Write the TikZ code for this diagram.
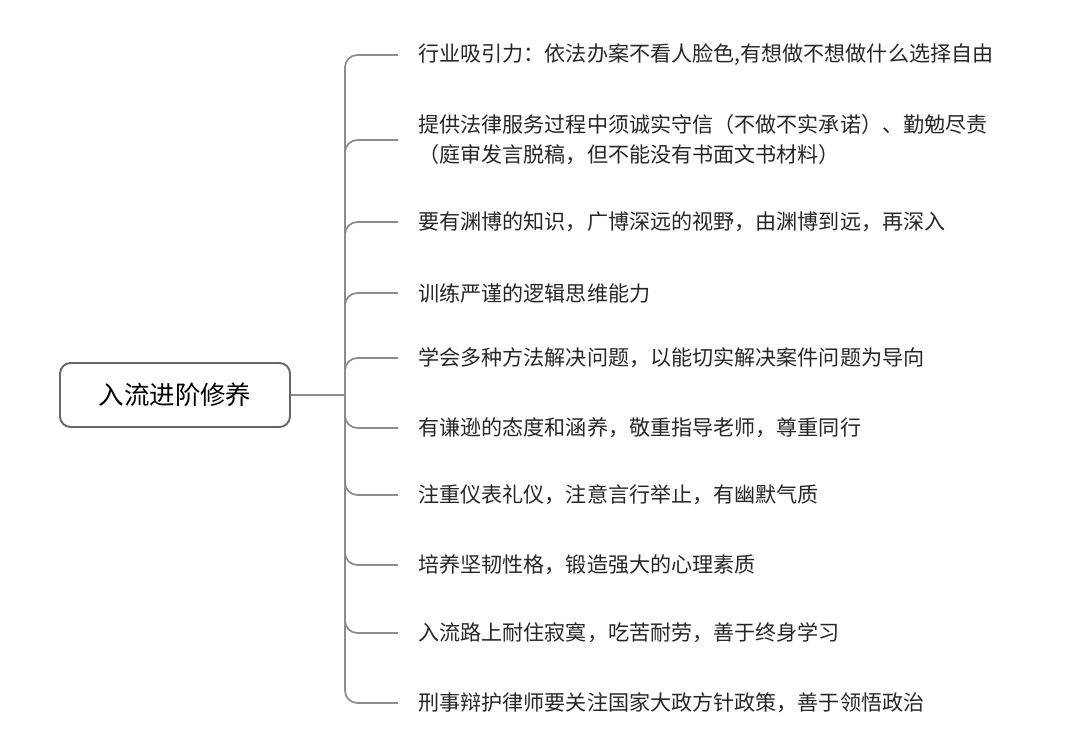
\documentclass[tikz,border=0pt]{standalone}
\usepackage{fontspec}
\newfontfamily\cjk{Noto Sans CJK SC}
\begin{document}
\begin{tikzpicture}[x=0.02cm,y=-0.02cm]
\tikzset{
  rootbox/.style={draw=gray!80!black,line width=1.1pt,rounded corners=6pt,minimum width=4.6cm,minimum height=1.28cm,font=\cjk\fontsize{14.5}{17}\selectfont},
  item/.style={anchor=west,inner sep=0pt,align=left,font=\cjk\fontsize{12}{17}\selectfont,text=black!85},
  branch/.style={draw=gray!90,line width=1pt,rounded corners=7pt}
}
\useasboundingbox (0,0) rectangle (1080,753);
\node [rootbox] (root) at (175,395) {入流进阶修养};
\coordinate (J) at (345,395);
\draw [branch] (root.east) -- (J);
\foreach \y/\name/\txt in {
  55/i1/{行业吸引力：依法办案不看人脸色,有想做不想做什么选择自由},
  140/i2/{提供法律服务过程中须诚实守信（不做不实承诺）、勤勉尽责\\（庭审发言脱稿，但不能没有书面文书材料）},
  222/i3/{要有渊博的知识，广博深远的视野，由渊博到远，再深入},
  293/i4/{训练严谨的逻辑思维能力},
  358/i5/{学会多种方法解决问题，以能切实解决案件问题为导向},
  428/i6/{有谦逊的态度和涵养，敬重指导老师，尊重同行},
  495/i7/{注重仪表礼仪，注意言行举止，有幽默气质},
  565/i8/{培养坚韧性格，锻造强大的心理素质},
  633/i9/{入流路上耐住寂寞，吃苦耐劳，善于终身学习},
  703/i10/{刑事辩护律师要关注国家大政方针政策，善于领悟政治}}
{
  \node [item] (\name) at (418,\y) {\txt};
  \coordinate (e\name) at (398,\y);
  \draw [branch] (J) -- (345,\y) -- (e\name);
}
\end{tikzpicture}
\end{document}
